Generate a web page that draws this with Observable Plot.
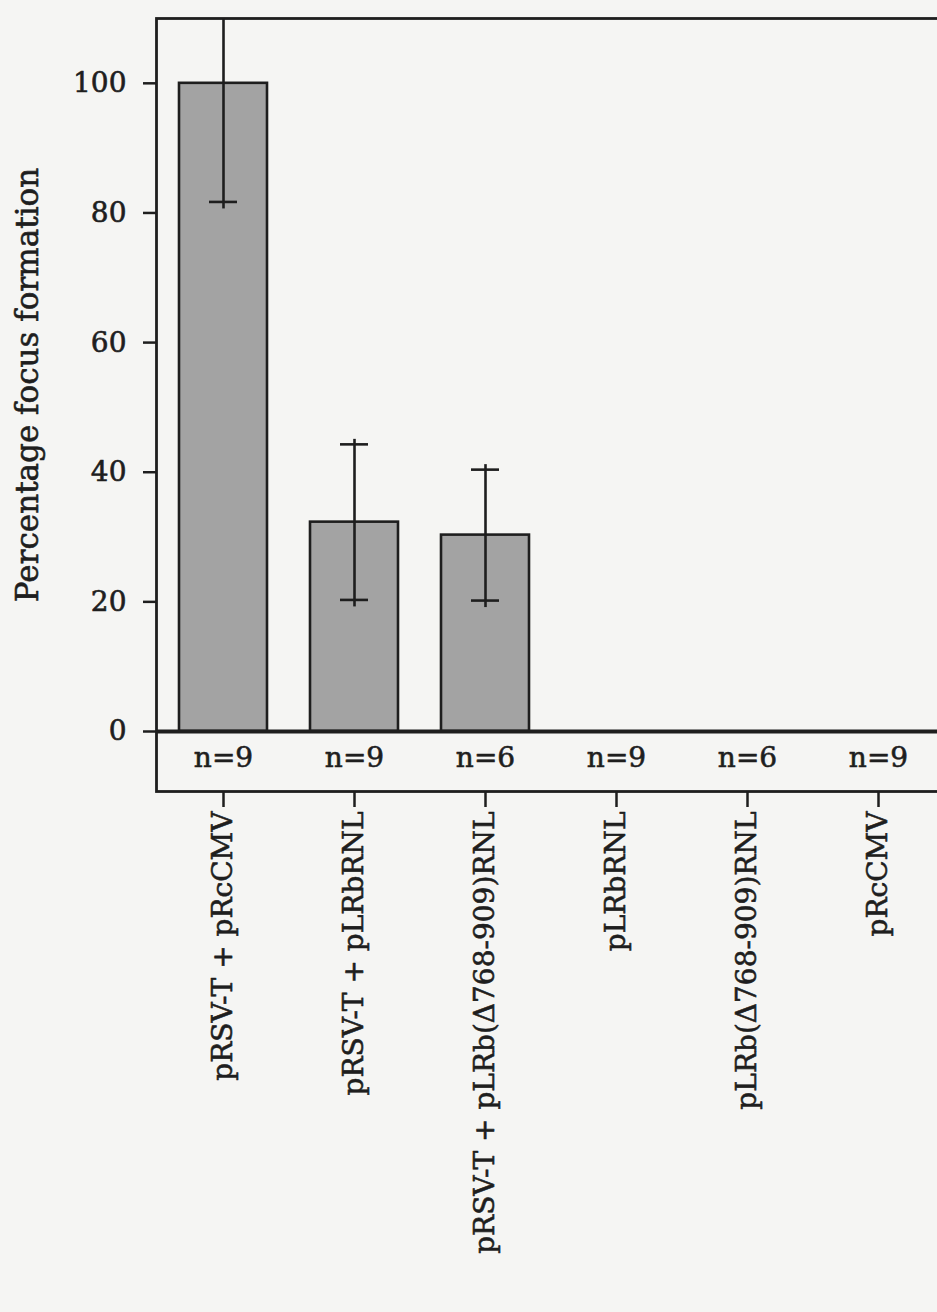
<!DOCTYPE html>
<html>
<head>
<meta charset="utf-8">
<script src="https://cdn.jsdelivr.net/npm/d3@7"></script>
<script src="https://cdn.jsdelivr.net/npm/@observablehq/plot@0.6"></script>
<style>
  html, body { margin: 0; padding: 0; background: #f5f5f3; overflow: hidden; }
  #chart svg { display: block; }
</style>
</head>
<body>
<div id="chart"></div>
<script>
const categories = [
  "pRSV-T + pRcCMV",
  "pRSV-T + pLRbRNL",
  "pRSV-T + pLRb(\u0394768-909)RNL",
  "pLRbRNL",
  "pLRb(\u0394768-909)RNL",
  "pRcCMV"
];
const values = [100, 32.3, 30.3, 0, 0, 0];
const errors = [18.3, 12.0, 10.1, 0, 0, 0];
const nLabels = ["n=9", "n=9", "n=6", "n=9", "n=6", "n=9"];
const yTicks = [0, 20, 40, 60, 80, 100];
const yLabel = "Percentage focus formation";

const data = categories.map((c, i) => ({cat: c, value: values[i], err: errors[i], n: nLabels[i]}));
const withErr = data.filter(d => d.err > 0);

const ink = "#1e1e1e";
const FS = 28;
const textStyle = {fill: ink, stroke: ink, strokeWidth: 0.6};

const chart = Plot.plot({
  width: 937,
  height: 1312,
  marginLeft: 156,
  marginRight: -10,
  marginTop: 18,
  marginBottom: 521,
  style: {background: "#f5f5f3", fontFamily: "'DejaVu Serif', serif", fontSize: FS + "px", color: ink, overflow: "hidden"},
  x: {domain: categories, range: [156, 944], paddingInner: 0.33, paddingOuter: 0.16, label: null},
  y: {domain: [0, 110], range: [731, 18], label: null},
  marks: [
    Plot.frame({stroke: ink, strokeWidth: 2.8}),
    Plot.barY(data, {x: "cat", y: "value", fill: "#a3a3a3", stroke: ink, strokeWidth: 2.6}),
    Plot.ruleY([0], {stroke: ink, strokeWidth: 4}),
    Plot.ruleX(withErr, {x: "cat", y1: "value", y2: d => d.value + d.err, insetBottom: 5, stroke: ink, strokeWidth: 2.6, clip: true}),
    Plot.ruleX(withErr, {x: "cat", y1: d => d.value - d.err, y2: "value", insetTop: 7, stroke: ink, strokeWidth: 2.6, clip: true}),
    Plot.tickY(withErr, {x: "cat", y: d => d.value - d.err, insetLeft: 30, insetRight: 30, stroke: ink, strokeWidth: 2.6, clip: true}),
    Plot.tickY(withErr, {x: "cat", y: d => d.value + d.err, insetLeft: 30, insetRight: 30, stroke: ink, strokeWidth: 2.6, clip: true}),
    Plot.axisY({ticks: yTicks, tickSize: 13, tickFormat: () => "", stroke: ink, strokeWidth: 2.5, label: null}),
    Plot.text(yTicks, {y: d => d, text: d => String(d), frameAnchor: "left", textAnchor: "end", dx: -30, lineAnchor: "middle", fontSize: FS, ...textStyle}),
    Plot.axisX({tickSize: 16, tickFormat: () => "", stroke: ink, strokeWidth: 2.5, label: null}),
    Plot.text(data, {x: "cat", text: "n", frameAnchor: "bottom", dy: -33, lineAnchor: "middle", fontSize: FS, ...textStyle}),
    Plot.text(data, {x: "cat", text: "cat", frameAnchor: "bottom", rotate: -90, textAnchor: "end", lineAnchor: "middle", dy: 20, fontSize: FS, ...textStyle}),
    Plot.text([yLabel], {frameAnchor: "left", rotate: -90, textAnchor: "middle", dx: -128, dy: -20, lineAnchor: "middle", fontSize: 31, ...textStyle})
  ]
});
document.getElementById("chart").appendChild(chart);
</script>
</body>
</html>
